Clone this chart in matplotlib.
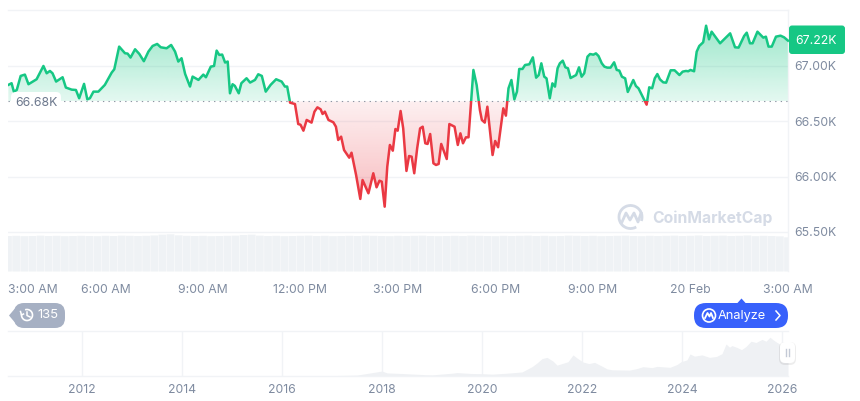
import numpy as np
import matplotlib
matplotlib.use("Agg")
import matplotlib.pyplot as plt
from matplotlib.path import Path
from matplotlib.patches import Rectangle, FancyBboxPatch, Polygon, Arc, Circle

plt.rcParams['font.family'] = ['Inter', 'DejaVu Sans']

# price trace, hours since 3:00 AM
hours = [0.01, 0.11, 0.18, 0.27, 0.39, 0.52, 0.63, 0.88, 1.09, 1.19, 1.29, 1.37, 1.48, 1.68, 1.78, 1.96, 2.09, 2.19, 2.34, 2.44,
         2.52, 2.63, 2.78, 2.98, 3.19, 3.27, 3.42, 3.60, 3.68, 3.77, 3.91, 4.04, 4.18, 4.32, 4.45, 4.59, 4.70, 4.88, 5.02, 5.14,
         5.24, 5.34, 5.45, 5.60, 5.68, 5.86, 6.01, 6.09, 6.24, 6.34, 6.42, 6.50, 6.59, 6.68, 6.76, 6.83, 6.91, 6.98, 7.10, 7.18,
         7.34, 7.45, 7.60, 7.70, 7.81, 7.93, 8.08, 8.25, 8.42, 8.52, 8.59, 8.68, 8.83, 8.93, 9.00, 9.09, 9.19, 9.34, 9.43, 9.52,
         9.62, 9.68, 9.75, 9.86, 10.01, 10.09, 10.16, 10.25, 10.34, 10.50, 10.57, 10.71, 10.84, 10.91, 11.09, 11.24, 11.34, 11.43,
         11.50, 11.59, 11.67, 11.75, 11.84, 11.92, 11.99, 12.08, 12.16, 12.26, 12.34, 12.42, 12.50, 12.59, 12.68, 12.76, 12.84,
         12.91, 12.99, 13.09, 13.17, 13.25, 13.33, 13.50, 13.58, 13.74, 13.84, 13.92, 14.00, 14.09, 14.17, 14.32, 14.42, 14.52,
         14.58, 14.67, 14.75, 14.91, 14.99, 15.08, 15.24, 15.32, 15.40, 15.49, 15.58, 15.66, 15.73, 15.83, 15.91, 16.04, 16.15,
         16.25, 16.33, 16.41, 16.50, 16.57, 16.67, 16.75, 16.83, 16.91, 16.98, 17.07, 17.15, 17.23, 17.31, 17.48, 17.57, 17.65,
         17.73, 17.83, 17.91, 18.01, 18.09, 18.17, 18.27, 18.35, 18.44, 18.54, 18.65, 18.73, 18.81, 18.89, 18.99, 19.07, 19.24,
         19.32, 19.40, 19.50, 19.65, 19.73, 19.82, 19.90, 19.98, 20.06, 20.16, 20.25, 20.39, 20.51, 20.66, 20.76, 20.86, 20.93,
         21.00, 21.11, 21.19, 21.27, 21.39, 21.48, 21.57, 21.65, 21.91, 22.22, 22.37, 22.48, 22.65, 22.73, 22.83, 22.91, 23.06,
         23.24, 23.32, 23.40, 23.50, 23.63, 23.77, 23.88, 24.00]
prices = [66829, 66844, 66768, 66783, 66910, 66922, 66835, 66880, 67000, 66934, 66955, 66934, 66859, 66898, 66805, 66786, 66783, 66708, 66838, 66699,
          66708, 66768, 66768, 66829, 66940, 66970, 67175, 67115, 67112, 67076, 67151, 67109, 67043, 67130, 67181, 67199, 67169, 67160, 67190, 67130,
          67040, 67070, 66928, 66814, 66904, 66874, 66922, 66898, 66994, 67000, 67139, 67100, 67103, 67031, 67040, 66753, 66835, 66820, 66753, 66844,
          66889, 66850, 66874, 66925, 66910, 66768, 66829, 66880, 66859, 66814, 66814, 66668, 66656, 66475, 66469, 66415, 66512, 66488, 66587, 66626,
          66608, 66566, 66587, 66512, 66491, 66451, 66331, 66361, 66240, 66171, 66216, 66015, 65798, 65969, 65849, 66030, 65903, 65963,
          65954, 65728, 66090, 66286, 66234, 66430, 66415, 66593, 66436, 66051, 66186, 66180, 66030, 66256, 66436, 66451, 66301,
          66295, 66385, 66120, 66105, 66114, 66295, 66159, 66475, 66451, 66286, 66391, 66301, 66355, 66355, 66964, 66828, 66602,
          66512, 66488, 66632, 66195, 66322, 66265, 66617, 66551, 66798, 66873, 66698, 66768, 66973, 66973, 67009, 67015, 67078,
          66894, 66918, 67024, 66903, 66888, 66708, 66843, 66813, 66979, 67024, 67048, 66988, 66979, 66891, 66918, 66988, 66903,
          66934, 67084, 67108, 67102, 67114, 67090, 67024, 66994, 66985, 66985, 67033, 66964, 66958, 66903, 66888, 66765, 66873,
          66819, 66798, 66738, 66650, 66807, 66798, 66888, 66927, 66879, 66852, 66849, 66961, 66961, 66918, 66949, 66955, 66952,
          66964, 66952, 67129, 67181, 67214, 67364, 67241, 67310, 67205, 67295, 67169, 67166, 67271, 67301, 67205, 67205, 67310,
          67256, 67265, 67175, 67175, 67265, 67274, 67259, 67229]
base_price = 66680

# volume in billions, one bar per 15 minutes
volumes = [2.08, 2.09, 2.07, 2.08, 2.10, 2.08, 2.09, 2.07, 2.08, 2.09, 2.08, 2.07, 2.09, 2.08, 2.10, 2.09,
           2.08, 2.09, 2.11, 2.16, 2.18, 2.12, 2.09, 2.08, 2.09, 2.07, 2.08, 2.09, 2.10, 2.14, 2.16, 2.10,
           2.08, 2.09, 2.07, 2.08, 2.09, 2.10, 2.08, 2.09, 2.07, 2.08, 2.09, 2.08, 2.10, 2.09, 2.08, 2.07,
           2.09, 2.08, 2.09, 2.10, 2.08, 2.07, 2.08, 2.09, 2.08, 2.10, 2.09, 2.08, 2.07, 2.09, 2.08, 2.09,
           2.10, 2.08, 2.09, 2.07, 2.08, 2.10, 2.09, 2.08, 2.09, 2.07, 2.08, 2.09, 2.10, 2.08, 2.07, 2.09,
           2.08, 2.09, 2.10, 2.08, 2.09, 2.11, 2.08, 2.09, 2.10, 2.08, 2.09, 2.11, 2.07, 2.09, 2.08, 2.06, 2.00]

# long range history, thousands of dollars
history_years = [2010.52, 2012.0, 2013.0, 2014.0, 2015.0, 2016.0, 2017.0, 2017.5, 2017.85, 2018.0, 2018.1, 2018.4, 2018.9, 2019.0, 2019.4,
                 2019.5, 2019.8, 2020.0, 2020.2, 2020.5, 2020.8, 2021.0, 2021.1, 2021.2, 2021.3, 2021.42, 2021.5, 2021.6, 2021.72, 2021.82,
                 2021.9, 2022.02, 2022.14, 2022.25, 2022.42, 2022.5, 2022.6, 2022.95, 2023.1, 2023.22, 2023.4, 2023.5, 2023.76, 2023.9,
                 2023.98, 2024.1, 2024.16, 2024.25, 2024.4, 2024.55, 2024.69, 2024.8, 2024.88, 2024.95, 2025.0, 2025.1, 2025.19, 2025.28,
                 2025.38, 2025.48, 2025.6, 2025.68, 2025.76, 2025.82, 2025.9, 2026.02, 2026.12]
history_prices = [0.1, 0.2, 0.4, 0.8, 0.3, 0.5, 1.2, 3, 12, 16, 10, 8, 4, 3.6, 9, 11, 8, 7.5, 6, 9, 13, 30, 42, 56, 60, 48, 35, 40, 46, 68,
                  58, 45, 40, 44, 30, 23, 20, 19, 24, 30, 27, 31, 28, 37, 46, 52, 71, 64, 68, 60, 63, 72, 103, 93, 98, 92, 85, 95, 112, 108,
                  118, 112, 125, 117, 108, 98, 68]

price_ticks = [65500, 66000, 66500, 67000]
price_labels = ['65.50K', '66.00K', '66.50K', '67.00K']
time_ticks = [0, 3, 6, 9, 12, 15, 18, 21, 24]
time_labels = ['3:00 AM', '6:00 AM', '9:00 AM', '12:00 PM', '3:00 PM', '6:00 PM', '9:00 PM', '20 Feb', '3:00 AM']
year_ticks = [2012, 2014, 2016, 2018, 2020, 2022, 2024, 2026]

W, H = 860, 401
GREEN = '#16c784'
RED = '#ea3943'
GRID = '#f1f3f6'
LABEL = '#7f8ba0'


def rect(left, top, right, bottom):
    return [left / W, 1 - bottom / H, (right - left) / W, (bottom - top) / H]


def gradient(ax, color, top_alpha, bottom_alpha, extent, clip):
    rgba = np.zeros((64, 2, 4))
    rgba[..., :3] = matplotlib.colors.to_rgb(color)
    rgba[..., 3] = np.linspace(top_alpha, bottom_alpha, 64)[:, None]
    im = ax.imshow(rgba, extent=extent, aspect='auto', origin='upper', zorder=1, interpolation='bilinear')
    im.set_clip_path(clip, transform=ax.transData)


fig = plt.figure(figsize=(W / 100, H / 100), dpi=100)

# volume sits under the price axes
ax_vol = fig.add_axes(rect(8, 10, 788, 271.5))
vol_bars = ax_vol.bar(np.arange(len(volumes)) * 0.25, volumes, width=0.238, color='#eff2f5', linewidth=0)
for bar in vol_bars:
    bar.set_snap(False)
ax_vol.set_xlim(0, 24)
ax_vol.set_ylim(0, 2.08 * 261.5 / 35.5)
ax_vol.axis('off')

ax = fig.add_axes(rect(8, 10, 788, 271.5))
ax.patch.set_visible(False)
hours_arr = np.array(hours)
prices_arr = np.array(prices)
y_min, y_max = 65142, 67506

up = ax.fill_between(hours_arr, prices_arr, base_price, where=prices_arr >= base_price, interpolate=True, facecolor='none', linewidth=0)
down = ax.fill_between(hours_arr, prices_arr, base_price, where=prices_arr <= base_price, interpolate=True, facecolor='none', linewidth=0)
gradient(ax, GREEN, 0.42, 0.12, [0, 24, base_price, max(prices)], Path.make_compound_path(*up.get_paths()))
gradient(ax, RED, 0.08, 0.34, [0, 24, min(prices), base_price], Path.make_compound_path(*down.get_paths()))

line_up, = ax.plot(hours, prices, color=GREEN, lw=1.8, zorder=3, solid_joinstyle='round')
line_down, = ax.plot(hours, prices, color=RED, lw=1.8, zorder=3, solid_joinstyle='round')
line_up.set_clip_path(Rectangle((0, base_price), 25, y_max - base_price, transform=ax.transData))
line_down.set_clip_path(Rectangle((0, y_min), 25, base_price - y_min, transform=ax.transData))
ax.axhline(base_price, color='#8d95a3', lw=0.8, ls=(0, (1.2, 3.8)), zorder=2)

ax.set_xlim(0, 24)
ax.set_ylim(y_min, y_max)
ax.yaxis.tick_right()
ax.set_yticks(price_ticks, price_labels)
ax.set_xticks(time_ticks, time_labels)
ax.tick_params(axis='both', length=0, labelsize=8.8, labelcolor=LABEL)
ax.tick_params(axis='x', pad=8.8)
ax.tick_params(axis='y', pad=4.6)
ax.get_xticklabels()[0].set_ha('left')
ax.grid(axis='y', color=GRID, lw=1)
ax.set_axisbelow(True)
for side in ['left', 'bottom']:
    ax.spines[side].set_visible(False)
for side in ['top', 'right']:
    ax.spines[side].set_color(GRID)
    ax.spines[side].set_linewidth(1)

# navigator strip
ax_nav = fig.add_axes(rect(8, 331, 788, 376))
ax_nav.fill_between(history_years, history_prices, 0, color='#eff1f4', linewidth=0)
ax_nav.set_xlim(2010.52, 2026.12)
ax_nav.set_ylim(0, 145)
ax_nav.set_yticks([])
ax_nav.set_xticks(year_ticks, [str(y) for y in year_ticks])
ax_nav.tick_params(axis='x', length=0, labelsize=8.8, labelcolor=LABEL, pad=5.5)
ax_nav.grid(axis='x', color=GRID, lw=1)
ax_nav.set_axisbelow(True)
for side in ['left', 'right']:
    ax_nav.spines[side].set_visible(False)
for side in ['top', 'bottom']:
    ax_nav.spines[side].set_color(GRID)
    ax_nav.spines[side].set_linewidth(1)

# overlay in pixel coordinates for the badges and watermark
ov = fig.add_axes([0, 0, 1, 1], zorder=10)
ov.set_xlim(0, W)
ov.set_ylim(H, 0)
ov.axis('off')
ov.patch.set_visible(False)


def badge(left, top, right, bottom, radius, color, **kw):
    ov.add_patch(FancyBboxPatch((left + radius, top + radius), right - left - 2 * radius, bottom - top - 2 * radius,
                                boxstyle=f'round,pad={radius},rounding_size={radius}', facecolor=color, edgecolor='none', **kw))


# current price and open price tags
badge(789, 25.5, 845, 54, 3, GREEN)
ov.text(795, 40.5, '67.22K', color='white', fontsize=8.8, va='center', ha='left')
badge(11, 92, 61, 112, 5, '#ffffff')
ov.text(15, 103, '66.68K', color='#6b778c', fontsize=8.8, va='center', ha='left')

# history tag
badge(14, 303, 65, 328, 10, '#a6b0c3')
ov.add_patch(Polygon([[9, 315.5], [17, 306], [17, 325]], closed=True, facecolor='#a6b0c3', edgecolor='none'))
ov.add_patch(Arc((27, 315), 11, 11, theta1=-110, theta2=190, color='white', lw=1.2))
ov.plot([27, 27, 30], [312, 315.5, 317], color='white', lw=1.1)
ov.plot([20.5, 21.5, 23.5], [311.5, 315, 314], color='white', lw=1.1)
ov.text(37.5, 315.5, '135', color='white', fontsize=9.4, va='center', ha='left')

# analyze button
badge(694, 303, 788, 328, 12, '#3861fb')
ov.add_patch(Polygon([[737, 303.5], [741.5, 298.5], [746, 303.5]], closed=True, facecolor='#3861fb', edgecolor='none'))
ov.add_patch(Circle((709, 315.5), 6.5, facecolor='none', edgecolor='white', lw=1.2))
ov.plot([705, 707.5, 709.5, 711, 713], [318, 313, 316.5, 313, 318], color='white', lw=1.3)
ov.text(718, 315.5, 'Analyze', color='white', fontsize=9.2, va='center', ha='left')
ov.plot([776, 780, 776], [311, 315.5, 320], color='white', lw=1.1)

# navigator handle with a soft shadow
badge(779, 342, 796, 365, 6, '#000000', alpha=0.07)
badge(780, 342, 795, 363, 5, '#ffffff')
ov.plot([786, 786], [349, 356], color='#c4cad6', lw=1)
ov.plot([789, 789], [349, 356], color='#c4cad6', lw=1)

# watermark
ov.add_patch(Arc((630.5, 217), 23, 23, theta1=-300, theta2=20, color='#d5dbe6', lw=2))
ov.plot([622, 626, 630, 634, 638, 641], [222, 213, 220, 213, 222, 213], color='#d5dbe6', lw=2, solid_joinstyle='round')
ov.text(652, 218.5, 'CoinMarketCap', color='#d5dbe6', fontsize=11.3, fontweight='bold', va='center', ha='left')

fig.savefig('out.png', dpi=100)
